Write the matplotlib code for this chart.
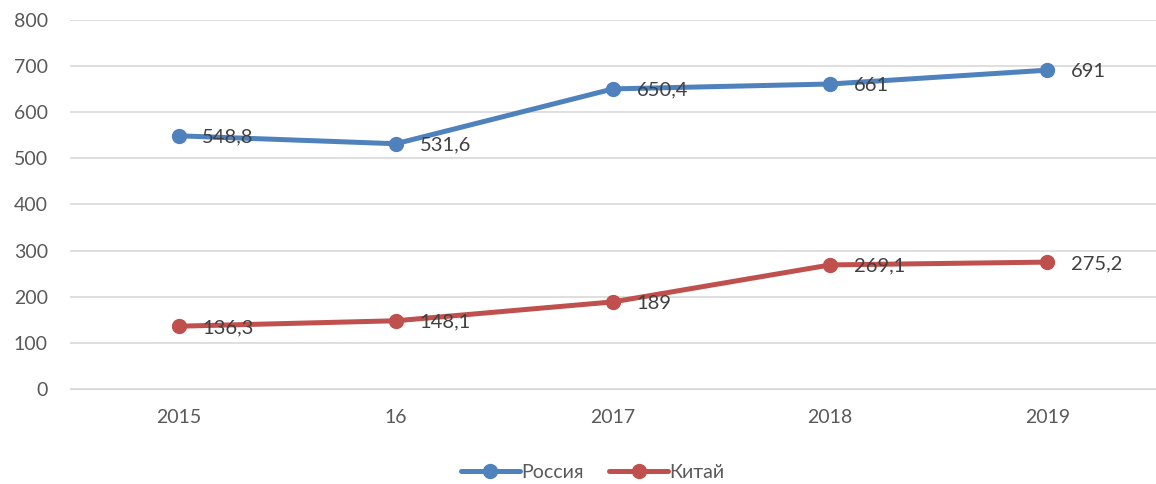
import matplotlib.pyplot as plt

years = ['2015', '16', '2017', '2018', '2019']
russia = [548.8, 531.6, 650.4, 661, 691]
china = [136.3, 148.1, 189, 269.1, 275.2]
russia_labels = ['548,8', '531,6', '650,4', '661', '691']
china_labels = ['136,3', '148,1', '189', '269,1', '275,2']

plt.rcParams['font.family'] = ['Lato', 'DejaVu Sans']

fig = plt.figure(figsize=(11.56, 4.84), dpi=100)
ax = fig.add_axes([0.0606, 0.196, 0.9394, 0.763])

x = range(len(years))
ax.plot(x, russia, color='#4F81BD', lw=3.6, marker='o', ms=10, label='Россия',
        solid_capstyle='round', zorder=3)
ax.plot(x, china, color='#C0504D', lw=3.6, marker='o', ms=10, label='Китай',
        solid_capstyle='round', zorder=3)

for i in x:
    ax.annotate(russia_labels[i], (i, russia[i]), xytext=(17, -1), textcoords='offset points',
                va='center', ha='left', fontsize=14.5, color='#404040', zorder=4)
    ax.annotate(china_labels[i], (i, china[i]), xytext=(17, -1), textcoords='offset points',
                va='center', ha='left', fontsize=14.5, color='#404040', zorder=4)

ax.set_xlim(-0.5, len(years) - 0.5)
ax.set_ylim(0, 800)
ax.set_yticks(range(0, 801, 100))
ax.set_xticks(list(x))
ax.set_xticklabels(years)
ax.grid(axis='y', color='#D9D9D9', lw=1.2)
ax.set_axisbelow(True)
for s in ax.spines.values():
    s.set_visible(False)
ax.spines['bottom'].set_visible(True)
ax.spines['bottom'].set_color('#D9D9D9')
ax.tick_params(length=0, labelsize=14, colors='#595959')
ax.tick_params(axis='x', pad=14)
ax.tick_params(axis='y', pad=16)

fig.legend(loc='lower center', bbox_to_anchor=(0.513, -0.03), ncol=2, frameon=False,
           fontsize=14, handlelength=3.0, handletextpad=0.1, columnspacing=1.3,
           labelcolor='#595959')

fig.savefig('out.png', dpi=100)
